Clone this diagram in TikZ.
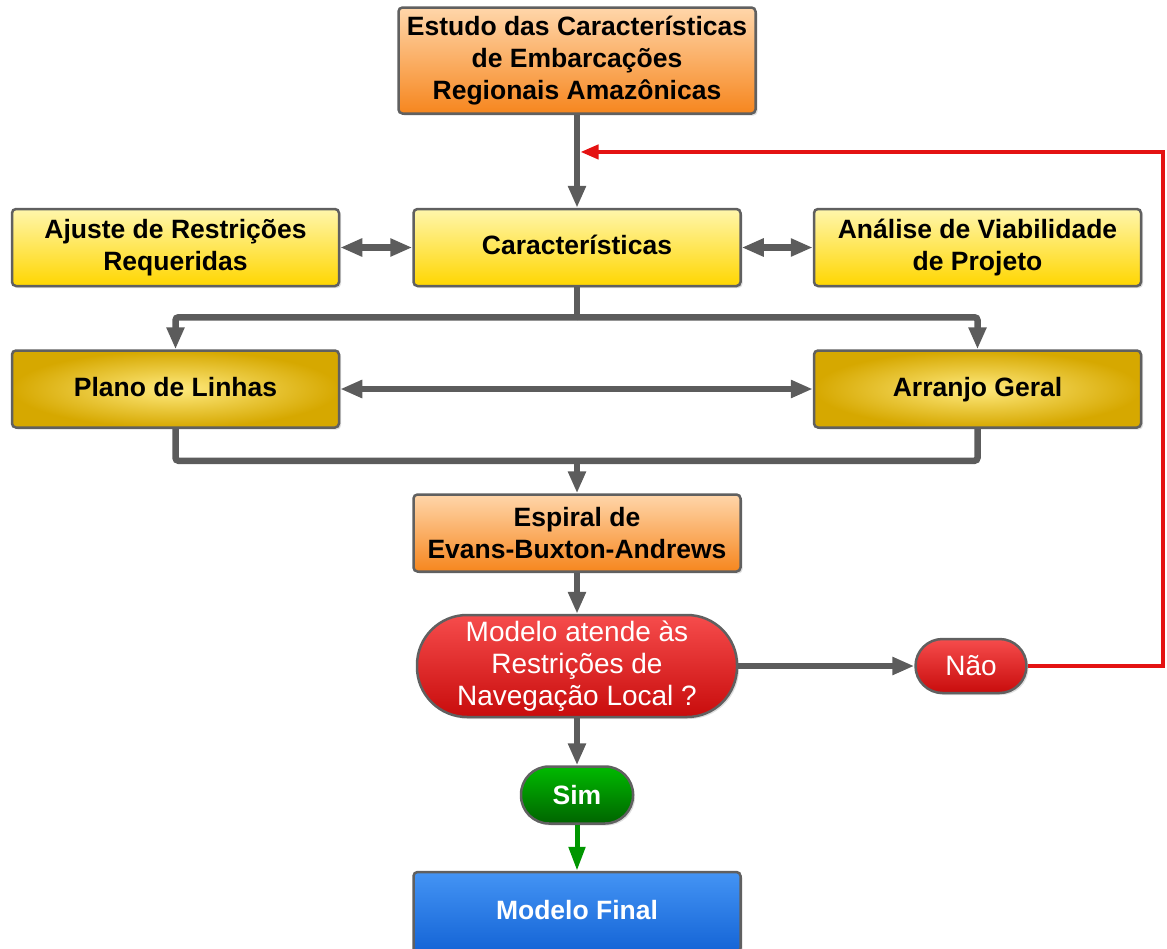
\documentclass[tikz,border=0pt]{standalone}
\usepackage{fontspec}
\setmainfont{Liberation Sans}
\usetikzlibrary{arrows.meta,positioning,calc,shadows}
\definecolor{bordagray}{RGB}{96,96,96}
\definecolor{linhagray}{RGB}{92,92,92}
\definecolor{laranjaclaro}{RGB}{255,214,170}
\definecolor{laranjaescuro}{RGB}{246,134,30}
\definecolor{amareloclaro}{RGB}{255,246,172}
\definecolor{amareloescuro}{RGB}{255,214,0}
\definecolor{ouroclaro}{RGB}{255,234,126}
\definecolor{ouroescuro}{RGB}{214,168,0}
\definecolor{vermelhoclaro}{RGB}{246,76,76}
\definecolor{vermelhoescuro}{RGB}{200,12,12}
\definecolor{verdeclaro}{RGB}{0,186,0}
\definecolor{verdeescuro}{RGB}{0,100,0}
\definecolor{azulclaro}{RGB}{68,148,244}
\definecolor{azulescuro}{RGB}{20,100,214}
\definecolor{retornored}{RGB}{228,18,18}
\definecolor{setagreen}{RGB}{0,150,0}
\tikzset{
  >={Triangle[length=22pt,width=17pt]},
  caixa/.style={rounded corners=4pt, draw=bordagray, line width=2.5pt, align=center,
    inner sep=0pt, font=\bfseries\fontsize{26.5}{32}\selectfont,
    drop shadow={shadow xshift=2pt, shadow yshift=-2pt, opacity=0.25}},
  umalinha/.style={text height=19pt, text depth=5pt},
  laranja/.style={caixa, top color=laranjaclaro, bottom color=laranjaescuro,
    minimum width=327pt, minimum height=77pt},
  amarelo/.style={caixa, top color=amareloclaro, bottom color=amareloescuro,
    minimum width=327pt, minimum height=77pt},
  ouro/.style={caixa, umalinha, inner color=ouroclaro, outer color=ouroescuro,
    minimum width=327pt, minimum height=77pt},
  decisao/.style={caixa, rounded corners=50pt, top color=vermelhoclaro, bottom color=vermelhoescuro,
    text=white, font=\fontsize{28}{32}\selectfont},
  final/.style={caixa, umalinha, top color=azulclaro, bottom color=azulescuro, text=white,
    minimum width=327pt, minimum height=80pt},
  linha/.style={line width=6.5pt, draw=linhagray, rounded corners=3pt},
  seta/.style={linha, ->},
  dupla/.style={linha, <->},
  retorno/.style={-{Triangle[length=18pt,width=14pt]}, line width=4pt, draw=retornored},
  sim/.style={-{Triangle[length=24pt,width=16pt]}, line width=5pt, draw=setagreen}
}
\begin{document}
\begin{tikzpicture}[x=1pt, y=1pt]
  \useasboundingbox (0,0) rectangle (1167,-948);

  % Coluna principal.
  \node[laranja, minimum width=357pt, minimum height=106pt] (estudo) at (577,-60.5)
    {Estudo das Características\\de Embarcações\\Regionais Amazônicas};
  \node[amarelo, umalinha, below=93pt of estudo] (car) {Características};
  \node[amarelo, left=72pt of car] (ajuste) {Ajuste de Restrições\\Requeridas};
  \node[amarelo, right=71pt of car] (analise) {Análise de Viabilidade\\de Projeto};
  \node[ouro, below=62pt of ajuste] (plano) {Plano de Linhas};
  \node[ouro, below=62pt of analise] (arranjo) {Arranjo Geral};
  \node[laranja, below=206pt of car] (espiral) {Espiral de\\Evans-Buxton-Andrews};
  \node[decisao, below=41pt of espiral, minimum width=320pt, minimum height=102pt] (modelo)
    {Modelo atende às\\Restrições de\\Navegação Local ?};
  \node[decisao, rounded corners=27pt, right=176pt of modelo, minimum width=111pt,
    minimum height=54pt] (nao) {Não};
  \node[decisao, rounded corners=28pt, font=\bfseries\fontsize{26.5}{32}\selectfont,
    below=47pt of modelo, top color=verdeclaro, bottom color=verdeescuro,
    minimum width=112pt, minimum height=57pt] (simno) {Sim};
  \node[final, below=46pt of simno] (fim) {Modelo Final};

  % Pontos auxiliares dos barramentos.
  \coordinate (b1) at ($(car.south)+(0,-30)$);
  \coordinate (b2) at ($(plano.south)+(0,-32)$);
  \coordinate (ret) at ($(estudo.south)!0.4!(car.north)$);

  % Ligações.
  \draw[seta] (estudo) -- (car);
  \draw[dupla] (ajuste) -- (car);
  \draw[dupla] (car) -- (analise);
  \draw[linha] (car.south) -- (b1);
  \draw[seta] (b1) -| (plano.north);
  \draw[seta] (b1) -| (arranjo.north);
  \draw[dupla] (plano) -- (arranjo);
  \draw[linha] (plano.south) |- ($(arranjo.south)+(0,-32)$) -- (arranjo.south);
  \draw[seta] (espiral.north |- b2) -- (espiral.north);
  \draw[seta] (espiral) -- (modelo);
  \draw[seta] (modelo) -- (nao);
  \draw[seta] (modelo) -- (simno);
  \draw[sim] (simno) -- (fim);

  % Retorno.
  \draw[retorno, shorten >=3.5pt] (nao.east) -- ++(135,0) |- (ret);
\end{tikzpicture}
\end{document}
